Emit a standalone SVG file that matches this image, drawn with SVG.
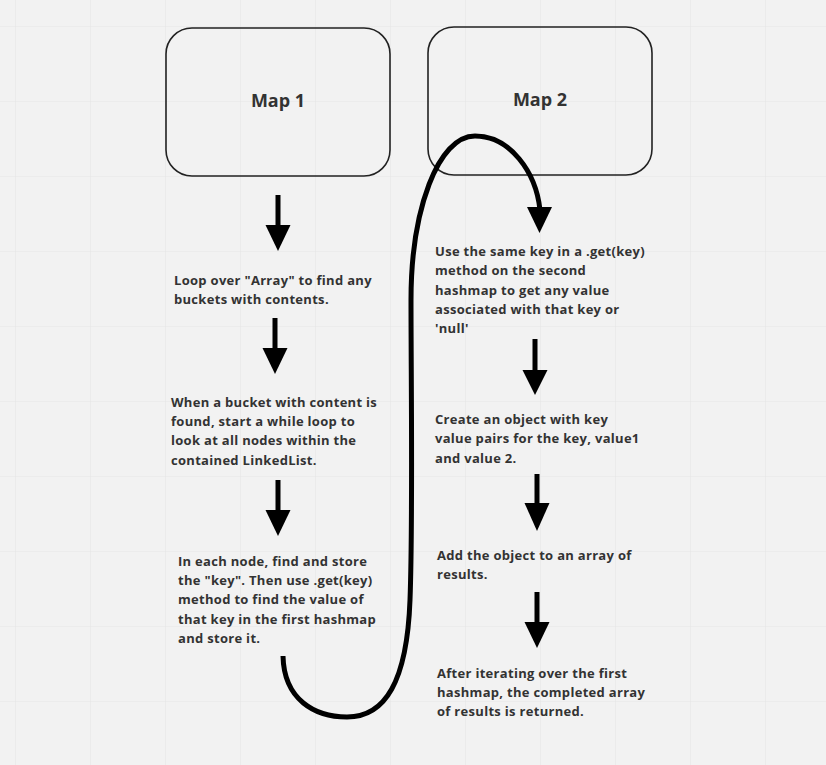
<svg xmlns="http://www.w3.org/2000/svg" width="826" height="765" viewBox="0 0 826 765">
<defs>
<pattern id="grid" x="15" y="26" width="75" height="75" patternUnits="userSpaceOnUse">
<path d="M0 0 V75 M0 0 H75" fill="none" stroke="#e6e6e6" stroke-width="1.2"/>
</pattern>
</defs>
<style>
.box{fill:none;stroke:#222;stroke-width:1.6}
.title{font-family:"Open Sans",sans-serif;font-weight:bold;font-size:18px;fill:#333;text-anchor:middle}
.t{font-family:"Open Sans",sans-serif;font-weight:bold;font-size:13px;fill:#333;letter-spacing:0.3px}
.shaft{stroke:#000;stroke-width:5;fill:none}
.head{fill:#000}
.curve{fill:none;stroke:#000;stroke-width:5;stroke-linecap:butt}
</style>
<rect width="826" height="765" fill="#f2f2f2"/>
<rect width="826" height="765" fill="url(#grid)"/>
<g id="map1">
<rect class="box" x="166" y="28" width="224" height="148" rx="26"/>
<text class="title" x="278" y="107">Map 1</text>
</g>
<g id="map2">
<rect class="box" x="428" y="27" width="224" height="148" rx="26"/>
<text class="title" x="540" y="106">Map 2</text>
</g>
<g id="step1">
<text class="t" x="174" y="285">Loop over "Array" to find any</text>
<text class="t" x="174" y="304">buckets with contents.</text>
</g>
<g id="step2">
<text class="t" x="171" y="407">When a bucket with content is</text>
<text class="t" x="171" y="426">found, start a while loop to</text>
<text class="t" x="171" y="445">look at all nodes within the</text>
<text class="t" x="171" y="465">contained LinkedList.</text>
</g>
<g id="step3">
<text class="t" x="178" y="566">In each node, find and store</text>
<text class="t" x="178" y="585">the "key". Then use .get(key)</text>
<text class="t" x="178" y="604">method to find the value of</text>
<text class="t" x="178" y="624">that key in the first hashmap</text>
<text class="t" x="178" y="643">and store it.</text>
</g>
<g id="step4">
<text class="t" x="435" y="256">Use the same key in a .get(key)</text>
<text class="t" x="435" y="275">method on the second</text>
<text class="t" x="435" y="295">hashmap to get any value</text>
<text class="t" x="435" y="314">associated with that key or</text>
<text class="t" x="435" y="333">'null'</text>
</g>
<g id="step5">
<text class="t" x="435" y="424">Create an object with key</text>
<text class="t" x="435" y="443">value pairs for the key, value1</text>
<text class="t" x="435" y="463">and value 2.</text>
</g>
<g id="step6">
<text class="t" x="437" y="560">Add the object to an array of</text>
<text class="t" x="437" y="579">results.</text>
</g>
<g id="step7">
<text class="t" x="437" y="678">After iterating over the first</text>
<text class="t" x="437" y="697">hashmap, the completed array</text>
<text class="t" x="437" y="716">of results is returned.</text>
</g>
<g id="connectors">
<line class="shaft" x1="278" y1="195" x2="278" y2="228"/>
<polygon class="head" points="265.5,225 290.5,225 278,251"/>
<line class="shaft" x1="275" y1="318" x2="275" y2="351"/>
<polygon class="head" points="262.5,348 287.5,348 275,374"/>
<line class="shaft" x1="278" y1="480" x2="278" y2="513"/>
<polygon class="head" points="265.5,510 290.5,510 278,536"/>
<line class="shaft" x1="535" y1="339" x2="535" y2="373"/>
<polygon class="head" points="522.5,370 547.5,370 535,395"/>
<line class="shaft" x1="537" y1="474" x2="537" y2="506"/>
<polygon class="head" points="524.5,503 549.5,503 537,531"/>
<line class="shaft" x1="537" y1="592" x2="537" y2="625"/>
<polygon class="head" points="524.5,622 549.5,622 537,648"/>
<path class="curve" d="M283 656 C284 700 315 717 347 717 C385 717 407 682 410 600 C413 520 411 380 411 300 C411 210 438 136 475 136 C510 136 536 172 540 210"/>
<polygon class="head" points="527,207 552,207 539.5,233"/>
</g>
</svg>
